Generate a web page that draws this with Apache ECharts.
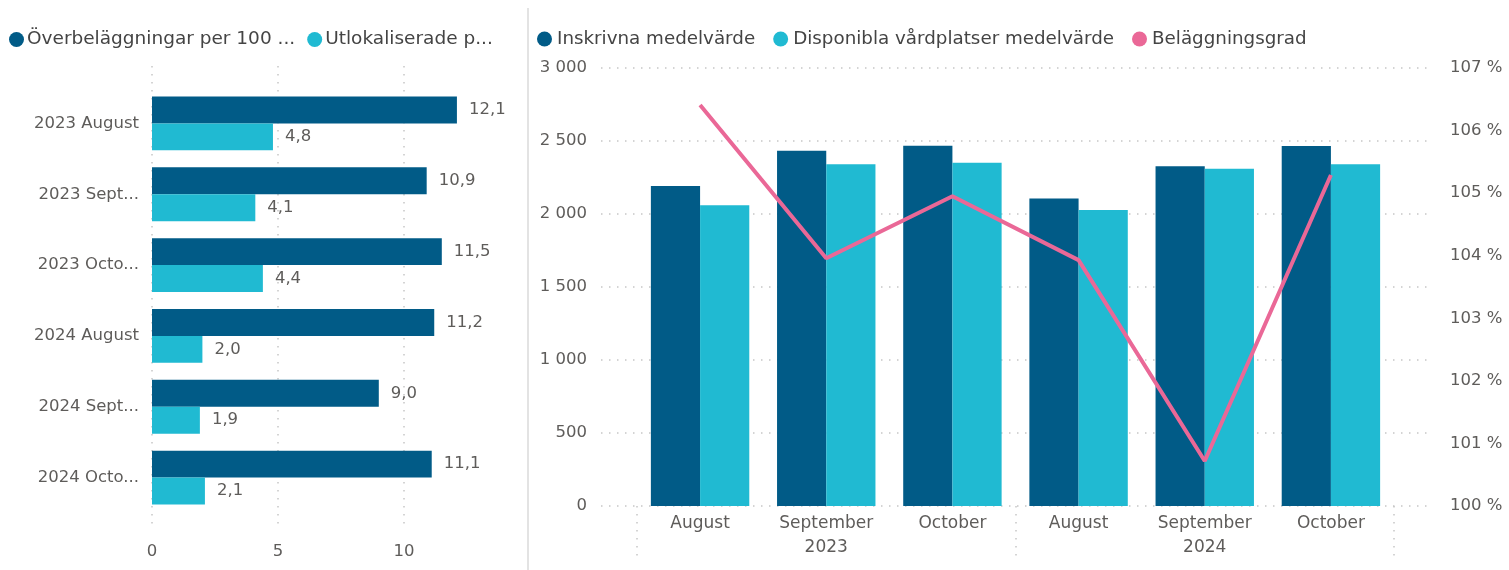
<!DOCTYPE html>
<html>
<head>
<meta charset="utf-8">
<script src="https://cdn.jsdelivr.net/npm/echarts@6/dist/echarts.min.js"></script>
<style>
  html, body { margin: 0; padding: 0; background: #fff; }
  #main { width: 1509px; height: 570px; }
</style>
</head>
<body>
<div id="main"></div>
<script>
// left chart
const periods = ['2023 August', '2023 September', '2023 October', '2024 August', '2024 September', '2024 October']
const overValues = [12.1, 10.9, 11.5, 11.2, 9.0, 11.1]
const utlokValues = [4.8, 4.1, 4.4, 2.0, 1.9, 2.1]
const leftTicks = [0, 5, 10]

// right chart
const months = ['August', 'September', 'October', 'August', 'September', 'October']
const years = ['2023', '2024']
const inskrivna = [2192, 2434, 2468, 2107, 2327, 2466]
const disponibla = [2060, 2340, 2351, 2027, 2310, 2340]
const belaggning = [106.41, 103.96, 104.95, 103.93, 100.72, 105.29]

const DARK = '#015B87'
const LIGHT = '#20BAD2'
const PINK = '#EA6897'
const TXT = '#5E5C5A'
const FONT = 'DejaVu Sans'
const dotted = { color: '#C6C6C6', type: [1.5, 6.5], width: 1.5 }

const comma = v => v.toFixed(1).replace('.', ',')

let chart = echarts.init(document.getElementById('main'))
chart.setOption({
  animation: false,
  textStyle: { fontFamily: FONT },
  legend: [
    {
      data: ['Överbeläggningar per 100 vårdplatser', 'Utlokaliserade patienter per 100 vårdplatser'],
      left: 4, top: 25, icon: 'circle', itemWidth: 15, itemHeight: 15, itemGap: 12,
      textStyle: { color: '#444', fontSize: 18.5, fontFamily: FONT, padding: [0, 0, 0, -2] },
      formatter: n => n.startsWith('Över') ? 'Överbeläggningar per 100 ...' : 'Utlokaliserade p...',
    },
    {
      data: ['Inskrivna medelvärde', 'Disponibla vårdplatser medelvärde', 'Beläggningsgrad'],
      left: 532, top: 25, icon: 'circle', itemWidth: 15, itemHeight: 15, itemGap: 18,
      textStyle: { color: '#444', fontSize: 18.3, fontFamily: FONT },
    },
  ],
  grid: [
    // 0: left bg (split lines + value labels)
    { left: 152, top: 66, width: 252, bottom: 40 },
    // 1: left bars
    { left: 152, top: 88, width: 252, bottom: 57 },
    // 2: right bg (split lines + both y labels)
    { left: 601, right: 76, top: 68, bottom: 64 },
    // 3: right bars + line
    { left: 637, right: 115, top: 68, bottom: 64 },
  ],
  xAxis: [
    {
      gridIndex: 0, type: 'value', min: 0, max: 10, interval: 5,
      axisLine: { show: false }, axisTick: { show: false },
      axisLabel: { color: TXT, fontSize: 16.5, margin: 13,
        customValues: leftTicks },
      splitLine: { show: true, lineStyle: dotted },
    },
    {
      gridIndex: 1, type: 'value', min: 0, max: 10, show: false,
    },
    {
      gridIndex: 2, type: 'category', data: months, show: false,
    },
    {
      gridIndex: 3, type: 'category', data: months,
      axisLine: { show: false }, axisTick: { show: false },
      axisLabel: { color: TXT, fontSize: 17, margin: 9, interval: 0 },
    },
    {
      gridIndex: 3, type: 'category', data: years, position: 'bottom',
      axisLine: { show: false },
      axisTick: { show: true, length: 55, lineStyle: dotted },
      axisLabel: { color: TXT, fontSize: 17, margin: 33 },
    },
  ],
  yAxis: [
    { gridIndex: 0, type: 'value', show: false },
    {
      gridIndex: 1, type: 'category', data: periods, inverse: true,
      axisLine: { show: false }, axisTick: { show: false },
      axisLabel: { color: TXT, fontSize: 16.5, margin: 13, width: 112, overflow: 'truncate', ellipsis: '...' },
    },
    {
      gridIndex: 2, type: 'value', min: 0, max: 3000, interval: 500,
      axisLine: { show: false }, axisTick: { show: false },
      axisLabel: { color: TXT, fontSize: 16.5, margin: 14,
        formatter: v => String(v).replace(/\B(?=(\d{3})+(?!\d))/g, ' ') },
      splitLine: { show: true, lineStyle: dotted },
    },
    {
      gridIndex: 2, type: 'value', position: 'right', min: 100, max: 107, interval: 1,
      axisLine: { show: false }, axisTick: { show: false },
      axisLabel: { color: TXT, fontSize: 16.5, margin: 17, formatter: '{value} %' },
      splitLine: { show: false },
    },
    { gridIndex: 3, type: 'value', min: 0, max: 3000, show: false },
    { gridIndex: 3, type: 'value', min: 100, max: 107, show: false },
  ],
  series: [
    {
      name: 'Överbeläggningar per 100 vårdplatser', type: 'bar',
      xAxisIndex: 1, yAxisIndex: 1, data: overValues, clip: false,
      barGap: '0%', barCategoryGap: '24%',
      itemStyle: { color: DARK },
      label: { show: true, position: 'right', distance: 12, color: TXT, fontSize: 16.5, formatter: p => comma(p.value) },
    },
    {
      name: 'Utlokaliserade patienter per 100 vårdplatser', type: 'bar',
      xAxisIndex: 1, yAxisIndex: 1, data: utlokValues, clip: false,
      barGap: '0%', barCategoryGap: '24%',
      itemStyle: { color: LIGHT },
      label: { show: true, position: 'right', distance: 12, color: TXT, fontSize: 16.5, formatter: p => comma(p.value) },
    },
    {
      name: 'Inskrivna medelvärde', type: 'bar',
      xAxisIndex: 3, yAxisIndex: 4, data: inskrivna,
      barGap: '0%', barCategoryGap: '22%',
      itemStyle: { color: DARK },
    },
    {
      name: 'Disponibla vårdplatser medelvärde', type: 'bar',
      xAxisIndex: 3, yAxisIndex: 4, data: disponibla,
      barGap: '0%', barCategoryGap: '22%',
      itemStyle: { color: LIGHT },
    },
    {
      name: 'Beläggningsgrad', type: 'line',
      xAxisIndex: 3, yAxisIndex: 5, data: belaggning,
      showSymbol: false, z: 5,
      itemStyle: { color: PINK },
      lineStyle: { color: PINK, width: 4 },
    },
  ],
  graphic: [
    { type: 'rect', shape: { x: 527, y: 8, width: 2, height: 562 }, style: { fill: '#E3E3E3' } },
  ],
})
</script>
</body>
</html>
